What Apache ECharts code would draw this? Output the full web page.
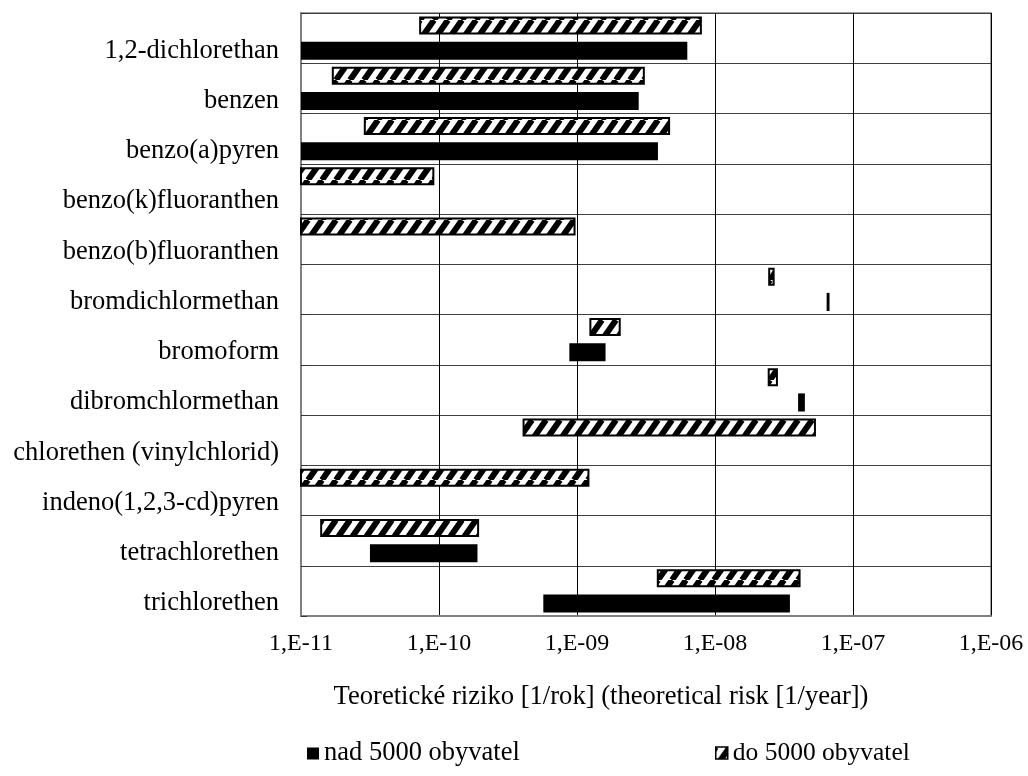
<!DOCTYPE html>
<html>
<head>
<meta charset="utf-8">
<script src="https://cdn.jsdelivr.net/npm/echarts@6/dist/echarts.min.js"></script>
<style>
  html, body { margin: 0; padding: 0; background: #fff; }
  #chart { width: 1028px; height: 776px; }
</style>
</head>
<body>
<div id="chart"></div>
<script>
// ---- data ----
const categories = [
  '1,2-dichlorethan', 'benzen', 'benzo(a)pyren', 'benzo(k)fluoranthen',
  'benzo(b)fluoranthen', 'bromdichlormethan', 'bromoform', 'dibromchlormethan',
  'chlorethen (vinylchlorid)', 'indeno(1,2,3-cd)pyren', 'tetrachlorethen', 'trichlorethen'
];
// "nad 5000 obyvatel" (solid black) – range min / max
const nadMin = [1e-11, 1e-11, 1e-11, null, null, 6.44e-8, 8.8e-10, 4.0e-8, null, null, 3.16e-11, 5.7e-10];
const nadMax = [6.3e-9, 2.8e-9, 3.86e-9, null, null, 6.76e-8, 1.61e-9, 4.48e-8, null, null, 1.9e-10, 3.49e-8];
// "do 5000 obyvatel" (hatched) – range min / max
const doMin = [7.3e-11, 1.7e-11, 2.9e-11, 1e-11, 1e-11, 2.47e-8, 1.25e-9, 2.45e-8, 4.1e-10, 1e-11, 1.4e-11, 3.85e-9];
const doMax = [7.9e-9, 3.05e-9, 4.65e-9, 9.1e-11, 9.6e-10, 2.66e-8, 2.04e-9, 2.81e-8, 5.3e-8, 1.21e-9, 1.92e-10, 4.1e-8];
const tickLabels = ['1,E-11', '1,E-10', '1,E-09', '1,E-08', '1,E-07', '1,E-06'];
const seriesNames = ['nad 5000 obyvatel', 'do 5000 obyvatel'];
const axisTitle = 'Teoretické riziko [1/rok] (theoretical risk [1/year])';

// ---- hatch pattern ----
function makeHatch() {
  const P = 14, H = 20;
  const c = document.createElement('canvas');
  c.width = P; c.height = H;
  const ctx = c.getContext('2d');
  ctx.fillStyle = '#fff';
  ctx.fillRect(0, 0, P, H);
  ctx.strokeStyle = '#000';
  ctx.lineWidth = 6;
  ctx.beginPath();
  for (let k = -1; k <= 1; k++) {
    ctx.moveTo(k * P, H);
    ctx.lineTo(k * P + P, 0);
  }
  ctx.stroke();
  return c;
}
const hatch = { image: makeHatch(), repeat: 'repeat' };

function buildData(mins, maxs) {
  const out = [];
  for (let i = 0; i < categories.length; i++) {
    if (mins[i] != null && maxs[i] != null) out.push([i, mins[i], maxs[i]]);
  }
  return out;
}

function makeRender(frac, hatched) {
  return function (params, api) {
    const cat = api.value(0), lo = api.value(1), hi = api.value(2);
    const cs = params.coordSys;
    const band = cs.height / categories.length;
    const a = api.coord([lo, cat]);
    const b = api.coord([hi, cat]);
    const h = band * 0.36;
    const cy = a[1] + band * frac;
    if (hatched) {
      return {
        type: 'rect',
        shape: { x: a[0], y: cy - h / 2 + 1, width: b[0] - a[0], height: h - 2 },
        style: { fill: hatch, stroke: '#000', lineWidth: 2 }
      };
    }
    return {
      type: 'rect',
      shape: { x: a[0], y: cy - h / 2, width: b[0] - a[0], height: h },
      style: { fill: '#000' }
    };
  };
}

const FONT = "'Liberation Serif', 'Times New Roman', serif";
const chart = echarts.init(document.getElementById('chart'), null, { renderer: 'canvas' });
chart.setOption({
  animation: false,
  backgroundColor: '#fff',
  grid: { left: 301, right: 37, top: 13, bottom: 160, show: true, borderColor: '#808080', borderWidth: 1.5 },
  xAxis: {
    type: 'log', logBase: 10, min: 1e-11, max: 1e-6,
    axisLine: { show: true, lineStyle: { color: '#808080', width: 2 } },
    axisTick: { show: false },
    splitLine: { show: true, lineStyle: { color: '#000', width: 1 } },
    axisLabel: {
      margin: 16,
      fontFamily: FONT, fontSize: 24, color: '#000',
      formatter: function (v) {
        const e = Math.round(Math.log10(v));
        return tickLabels[e + 11] || '';
      }
    },
    name: axisTitle,
    nameLocation: 'middle',
    nameGap: 68,
    nameTextStyle: { fontFamily: FONT, fontSize: 26.6, color: '#000', padding: [0, 90, 0, 0] }
  },
  yAxis: {
    type: 'category', data: categories, inverse: true,
    axisLine: { show: true, lineStyle: { color: '#808080', width: 2 } },
    axisTick: { show: true, inside: true, length: 6, lineStyle: { color: '#333' } },
    splitLine: { show: true, interval: 0, lineStyle: { color: '#404040', width: 1 } },
    axisLabel: {
      interval: 0, margin: 22,
      fontFamily: FONT, fontSize: 26.5, color: '#000',
      verticalAlign: 'top', lineHeight: 25
    }
  },
  legend: [
    {
      left: 302, top: 735, itemWidth: 12, itemHeight: 12, itemGap: 10,
      textStyle: { fontFamily: FONT, fontSize: 26.5, color: '#000' },
      data: [{ name: seriesNames[0], icon: 'rect', itemStyle: { color: '#000' } }]
    },
    {
      left: 710, top: 735, itemWidth: 12, itemHeight: 12, itemGap: 10,
      textStyle: { fontFamily: FONT, fontSize: 25.5, color: '#000' },
      data: [{ name: seriesNames[1], icon: 'rect', itemStyle: { color: hatch, borderColor: '#000', borderWidth: 1.5 } }]
    }
  ],
  series: [
    {
      type: 'custom', name: seriesNames[1],
      renderItem: makeRender(-0.25, true),
      encode: { x: [1, 2], y: 0 },
      itemStyle: { color: hatch },
      data: buildData(doMin, doMax)
    },
    {
      type: 'custom', name: seriesNames[0],
      renderItem: makeRender(0.25, false),
      encode: { x: [1, 2], y: 0 },
      itemStyle: { color: '#000' },
      data: buildData(nadMin, nadMax)
    }
  ]
});
</script>
</body>
</html>
